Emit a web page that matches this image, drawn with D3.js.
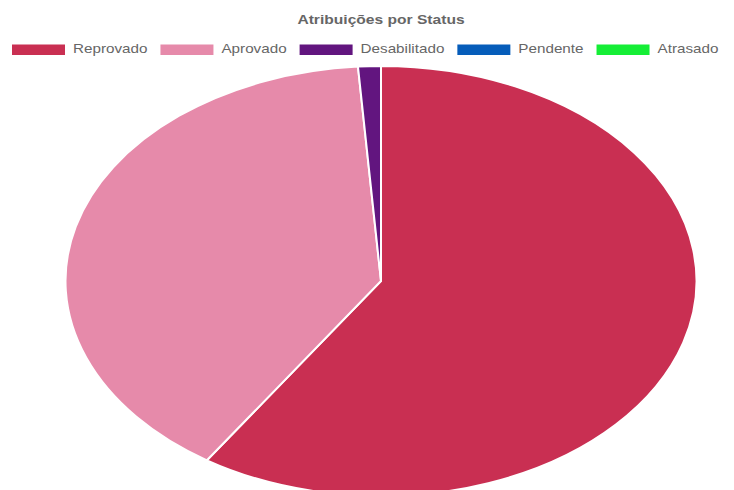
<!DOCTYPE html>
<html>
<head>
<meta charset="utf-8">
<script src="https://cdn.jsdelivr.net/npm/d3@7"></script>
<style>
  html, body { margin: 0; padding: 0; background: #fff; overflow: hidden; }
  svg { display: block; font-family: "Liberation Sans", Arial, sans-serif; }
</style>
</head>
<body>
<div class="visHolder"></div>
<script>
var width = 734,
    height = 490;

var title = "Atribuições por Status";
var labels = ["Reprovado", "Aprovado", "Desabilitado", "Pendente", "Atrasado"];
var values = [51, 34, 1, 0, 0];
var colors = ["#c92f52", "#e68aaa", "#62157f", "#065dba", "#15ee36"];

var svg = d3.select('.visHolder')
  .append('svg')
  .attr('width', width)
  .attr('height', height);

// the original canvas is stretched, so text is wider than it is tall
var sx = 1.3, sy = 1.08;

svg.append("text")
  .attr("transform", "translate(381,24) scale(" + sx + "," + sy + ")")
  .attr("text-anchor", "middle")
  .style("font-size", "12px")
  .style("font-weight", "bold")
  .style("fill", "#666")
  .text(title);

// legend
var legend = svg.append("g").attr("class", "legend");
var x = 12;
labels.forEach(function (lab, i) {
  legend.append("rect")
    .attr("x", x).attr("y", 44.5)
    .attr("width", 53).attr("height", 10.5)
    .style("fill", colors[i]);
  x += 53 + 8;
  var t = legend.append("text")
    .attr("transform", "translate(" + x + ",53) scale(1.27," + sy + ")")
    .style("font-size", "12px")
    .style("fill", "#666")
    .text(lab);
  var w = t.node().getComputedTextLength() * 1.27;
  x += w + 13;
});

// pie (drawn as circle then stretched horizontally)
var cx = 381, cy = 281, rx = 315.5, ry = 215;

var pie = d3.pie().sort(null).value(function (d) { return d; });
var arc = d3.arc().innerRadius(0).outerRadius(ry);

var g = svg.append("g")
  .attr("transform", "translate(" + cx + "," + cy + ") scale(" + (rx / ry) + ",1)");

g.selectAll("path")
  .data(pie(values))
  .enter()
  .append("path")
  .attr("d", arc)
  .style("fill", function (d, i) { return colors[i]; })
  .style("stroke", "#fff")
  .style("stroke-width", 2)
  .attr("vector-effect", "non-scaling-stroke");
</script>
</body>
</html>
